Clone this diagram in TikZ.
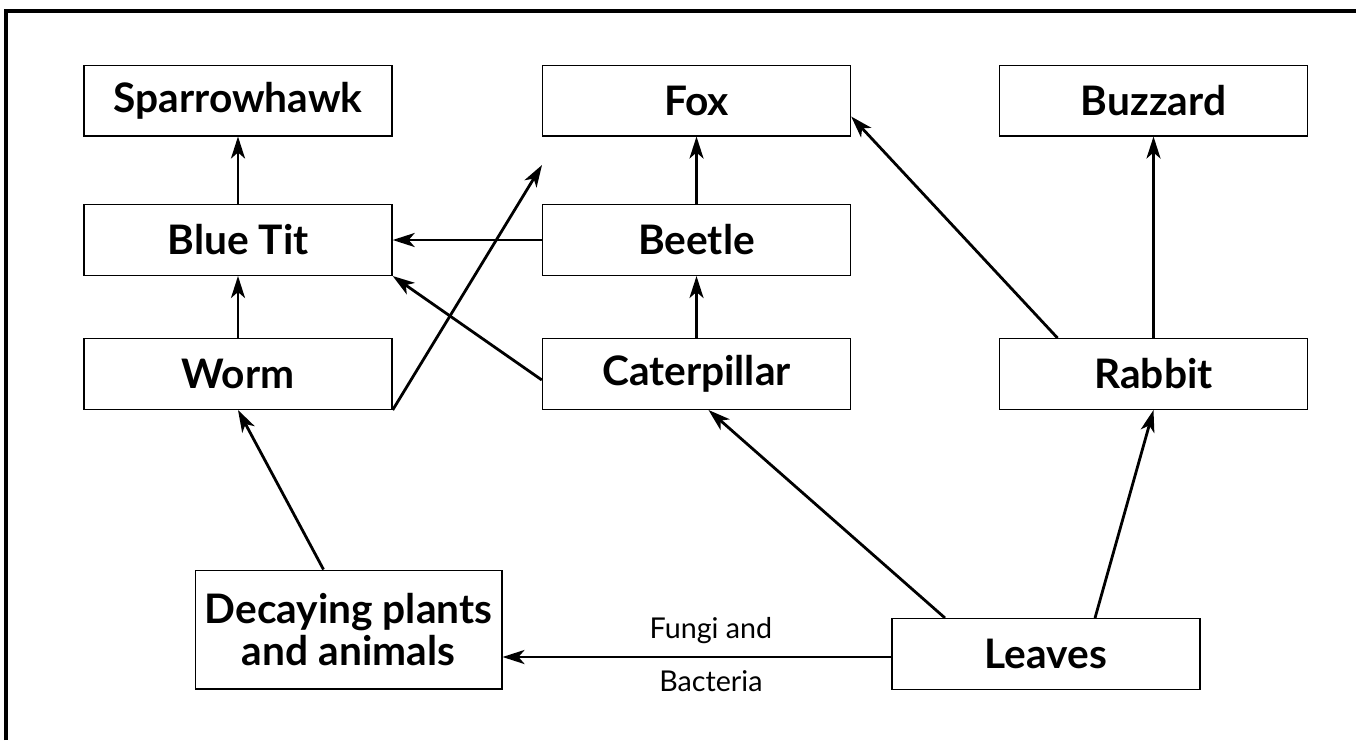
\documentclass[tikz,border=0pt]{standalone}
\usepackage{fontspec}
\setmainfont{Lato}
\usetikzlibrary{arrows.meta,calc}
\tikzset{
  box/.style={draw=black, line width=1pt, minimum width=231pt, minimum height=53pt, inner sep=0pt,
    font=\fontsize{30.5}{32}\selectfont\bfseries, align=center},
  arr/.style={line width=2.1pt, -{Stealth[length=16.5pt, width=10.5pt, inset=4.5pt]}},
  lbl/.style={font=\fontsize{21.5}{24}\selectfont}
}
\begin{document}
\begin{tikzpicture}[x=0.75pt, y=-0.75pt]
\useasboundingbox (0,0) rectangle (1356,740);
\draw[line width=2.3pt] (6,740) -- (6,11) -- (1356,11);
\node[box] (sparrow) at (238,100.5) {Sparrowhawk};
\node[box] (fox) at (696.5,100.5) {Fox};
\node[box] (buzzard) at (1153.5,100.5) {Buzzard};
\node[box] (bluetit) at (238,240) {Blue Tit};
\node[box] (beetle) at (696.5,240) {Beetle};
\node[box] (worm) at (238,374) {Worm};
\node[box] (cat) at (696.5,374) {Caterpillar};
\node[box] (rabbit) at (1153.5,374) {Rabbit};
\node[box, minimum height=89pt, minimum width=230pt] (dec) at (348.5,629.5) {Decaying plants\\and animals};
\node[box] (leaves) at (1046,654) {Leaves};
\coordinate (foxin) at (542,165);
\coordinate (lw) at ($(leaves.west)+(0,3)$);
\draw[arr] (bluetit.north) -- (sparrow.south);
\draw[arr] (worm.north) -- (bluetit.south);
\draw[arr] (beetle.north) -- (fox.south);
\draw[arr] (cat.north) -- (beetle.south);
\draw[arr] (beetle.west) -- (bluetit.east);
\draw[arr] ($(cat.west)+(0,6)$) -- (bluetit.south east);
\draw[arr] (worm.south east) -- (foxin);
\draw[arr] ($(rabbit.north)+(-96,0)$) -- ($(fox.east)+(0,16)$);
\draw[arr] (rabbit.north) -- (buzzard.south);
\draw[arr] ($(leaves.north)+(49,0)$) -- (rabbit.south);
\draw[arr] ($(leaves.north)+(-101,0)$) -- ($(cat.south)+(12,0)$);
\draw[arr] ($(dec.north)+(-25,0)$) -- (worm.south);
\draw[arr] (lw) -- (lw -| dec.east)
  node[lbl, pos=0.464, anchor=base, yshift=14.25pt] (fungi) {Fungi and}
  node[lbl, pos=0.464, anchor=base, yshift=-25.5pt] (bact) {Bacteria};
\end{tikzpicture}
\end{document}
